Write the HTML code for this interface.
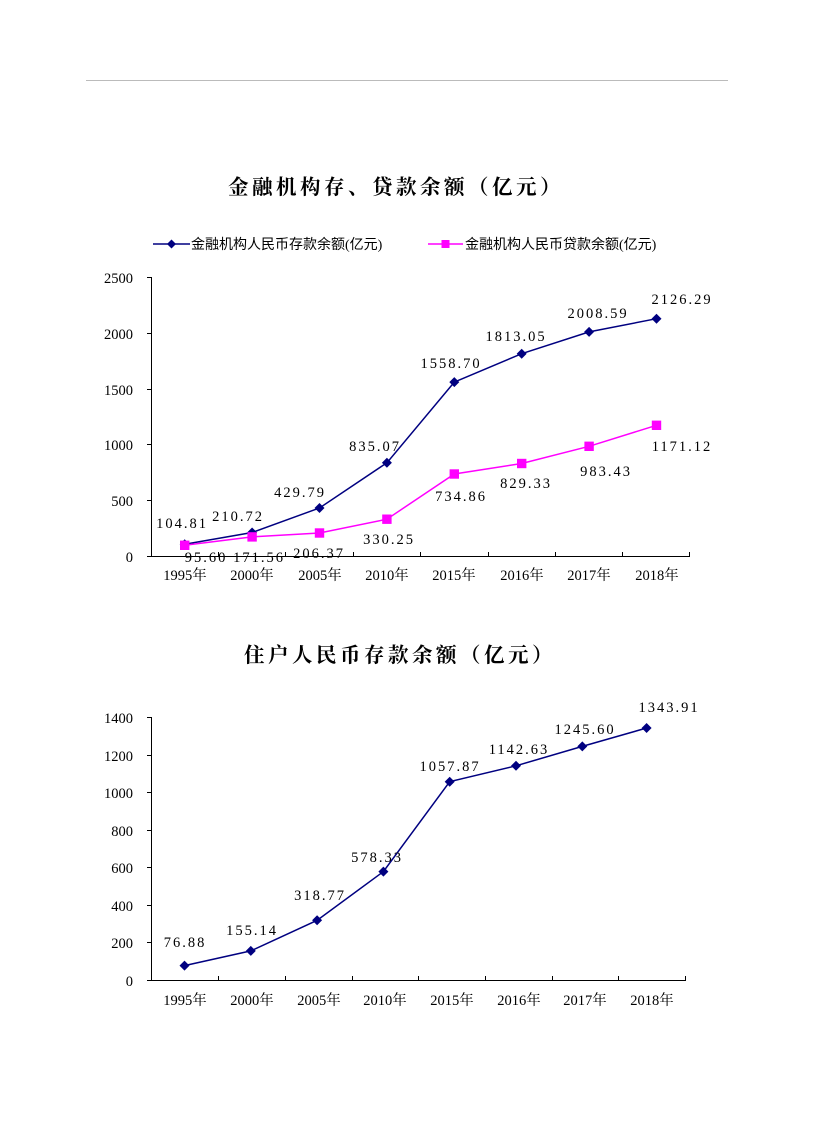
<!DOCTYPE html>
<html><head><meta charset="utf-8"><style>
body{margin:0;background:#fff}
svg text{font-family:"Liberation Serif","Noto Serif CJK SC",serif;font-size:14.5px;fill:#000}
.t{font-family:"Noto Serif CJK SC","Noto Sans CJK SC",serif;font-size:20.5px;font-weight:bold;letter-spacing:3.5px}
.l{font-family:"Liberation Serif","Noto Sans CJK SC",sans-serif;font-size:14px}
.d{letter-spacing:2px;font-size:13px}
</style></head><body>
<svg width="827" height="1122" viewBox="0 0 827 1122" xmlns="http://www.w3.org/2000/svg">
<line x1="86" y1="80.5" x2="728" y2="80.5" stroke="#bbb" stroke-width="1"/>
<text class="t" x="396" y="194" text-anchor="middle">金融机构存、贷款余额（亿元）</text>
<!-- legend -->
<line x1="153" y1="244" x2="190" y2="244" stroke="#000080" stroke-width="1.5"/>
<path d="M171.5 239.5 L176 244 L171.5 248.5 L167 244Z" fill="#000080"/>
<text class="l" x="191" y="249">金融机构人民币存款余额(亿元)</text>
<line x1="428" y1="244" x2="463" y2="244" stroke="#f0f" stroke-width="1.5"/>
<rect x="441.5" y="240" width="8" height="8" fill="#f0f"/>
<text class="l" x="465" y="249">金融机构人民币贷款余额(亿元)</text>
<!-- axes chart1 -->
<g stroke="#000" stroke-width="1">
<line x1="151.5" y1="277" x2="151.5" y2="556"/>
<line x1="151" y1="556.5" x2="690" y2="556.5"/>
<line x1="147" y1="277.5" x2="151" y2="277.5"/><line x1="147" y1="333.5" x2="151" y2="333.5"/><line x1="147" y1="389.5" x2="151" y2="389.5"/><line x1="147" y1="444.5" x2="151" y2="444.5"/><line x1="147" y1="500.5" x2="151" y2="500.5"/><line x1="147" y1="556.5" x2="151" y2="556.5"/>
<line x1="218.5" y1="552" x2="218.5" y2="556"/><line x1="285.5" y1="552" x2="285.5" y2="556"/><line x1="353.5" y1="552" x2="353.5" y2="556"/><line x1="420.5" y1="552" x2="420.5" y2="556"/><line x1="488.5" y1="552" x2="488.5" y2="556"/><line x1="555.5" y1="552" x2="555.5" y2="556"/><line x1="622.5" y1="552" x2="622.5" y2="556"/><line x1="689.5" y1="552" x2="689.5" y2="556"/>
</g>
<g text-anchor="end"><text x="133" y="283">2500</text><text x="133" y="339">2000</text><text x="133" y="395">1500</text><text x="133" y="450">1000</text><text x="133" y="506">500</text><text x="133" y="562">0</text></g>
<g text-anchor="middle"><text x="185" y="580">1995年</text><text x="252" y="580">2000年</text><text x="320" y="580">2005年</text><text x="387" y="580">2010年</text><text x="454" y="580">2015年</text><text x="522" y="580">2016年</text><text x="589" y="580">2017年</text><text x="657" y="580">2018年</text></g>
<polyline fill="none" stroke="#000080" stroke-width="1.5" points="184.7,544.3 252.1,532.5 319.5,508.0 386.9,462.8 454.3,382.1 521.7,353.7 589.1,331.9 656.5,318.7"/>
<g fill="#000080">
<path d="M184.7 539.3l5 5-5 5-5-5z"/><path d="M252.1 527.5l5 5-5 5-5-5z"/><path d="M319.5 503l5 5-5 5-5-5z"/><path d="M386.9 457.8l5 5-5 5-5-5z"/><path d="M454.3 377.1l5 5-5 5-5-5z"/><path d="M521.7 348.7l5 5-5 5-5-5z"/><path d="M589.1 326.9l5 5-5 5-5-5z"/><path d="M656.5 313.7l5 5-5 5-5-5z"/>
</g>
<polyline fill="none" stroke="#f0f" stroke-width="1.5" points="184.7,545.3 252.1,536.9 319.5,533.0 386.9,519.2 454.3,474.0 521.7,463.5 589.1,446.3 656.5,425.3"/>
<g fill="#f0f">
<rect x="180" y="540.6" width="9.4" height="9.4"/><rect x="247.4" y="532.2" width="9.4" height="9.4"/><rect x="314.8" y="528.3" width="9.4" height="9.4"/><rect x="382.2" y="514.5" width="9.4" height="9.4"/><rect x="449.6" y="469.3" width="9.4" height="9.4"/><rect x="517" y="458.8" width="9.4" height="9.4"/><rect x="584.4" y="441.6" width="9.4" height="9.4"/><rect x="651.8" y="420.6" width="9.4" height="9.4"/>
</g>
<g class="d" text-anchor="middle">
<text x="182" y="528">104.81</text><text x="238" y="521">210.72</text><text x="300" y="497">429.79</text><text x="375" y="451">835.07</text><text x="451" y="368">1558.70</text><text x="516" y="341">1813.05</text><text x="598" y="318">2008.59</text><text x="682" y="304">2126.29</text>
<text x="206" y="562">95.60</text><text x="259" y="562">171.56</text><text x="319" y="558">206.37</text><text x="389" y="544">330.25</text><text x="461" y="501">734.86</text><text x="526" y="488">829.33</text><text x="606" y="476">983.43</text><text x="682" y="451">1171.12</text>
</g>
<!-- chart 2 -->
<text class="t" x="400" y="662" text-anchor="middle">住户人民币存款余额（亿元）</text>
<g stroke="#000" stroke-width="1">
<line x1="151.5" y1="717" x2="151.5" y2="980"/>
<line x1="151" y1="980.5" x2="686" y2="980.5"/>
<line x1="147" y1="717.5" x2="151" y2="717.5"/><line x1="147" y1="755.5" x2="151" y2="755.5"/><line x1="147" y1="792.5" x2="151" y2="792.5"/><line x1="147" y1="830.5" x2="151" y2="830.5"/><line x1="147" y1="867.5" x2="151" y2="867.5"/><line x1="147" y1="905.5" x2="151" y2="905.5"/><line x1="147" y1="942.5" x2="151" y2="942.5"/><line x1="147" y1="980.5" x2="151" y2="980.5"/>
<line x1="218.5" y1="976" x2="218.5" y2="980"/><line x1="285.5" y1="976" x2="285.5" y2="980"/><line x1="352.5" y1="976" x2="352.5" y2="980"/><line x1="418.5" y1="976" x2="418.5" y2="980"/><line x1="485.5" y1="976" x2="485.5" y2="980"/><line x1="552.5" y1="976" x2="552.5" y2="980"/><line x1="618.5" y1="976" x2="618.5" y2="980"/><line x1="685.5" y1="976" x2="685.5" y2="980"/>
</g>
<g text-anchor="end"><text x="133" y="723">1400</text><text x="133" y="761">1200</text><text x="133" y="798">1000</text><text x="133" y="836">800</text><text x="133" y="873">600</text><text x="133" y="911">400</text><text x="133" y="948">200</text><text x="133" y="986">0</text></g>
<g text-anchor="middle"><text x="185" y="1005">1995年</text><text x="252" y="1005">2000年</text><text x="319" y="1005">2005年</text><text x="385" y="1005">2010年</text><text x="452" y="1005">2015年</text><text x="519" y="1005">2016年</text><text x="585" y="1005">2017年</text><text x="652" y="1005">2018年</text></g>
<polyline fill="none" stroke="#000080" stroke-width="1.5" points="184.5,965.6 250.8,950.9 317.1,920.3 383.4,871.6 449.7,781.7 516,765.8 582.3,746.4 646.6,728.0"/>
<g fill="#000080">
<path d="M184.5 960.6l5 5-5 5-5-5z"/><path d="M250.8 945.9l5 5-5 5-5-5z"/><path d="M317.1 915.3l5 5-5 5-5-5z"/><path d="M383.4 866.6l5 5-5 5-5-5z"/><path d="M449.7 776.7l5 5-5 5-5-5z"/><path d="M516 760.8l5 5-5 5-5-5z"/><path d="M582.3 741.4l5 5-5 5-5-5z"/><path d="M646.6 723l5 5-5 5-5-5z"/>
</g>
<g class="d" text-anchor="middle">
<text x="185" y="947">76.88</text><text x="252" y="935">155.14</text><text x="320" y="900">318.77</text><text x="377" y="862">578.33</text><text x="450" y="771">1057.87</text><text x="519" y="754">1142.63</text><text x="585" y="734">1245.60</text><text x="669" y="712">1343.91</text>
</g>
</svg>
</body></html>
